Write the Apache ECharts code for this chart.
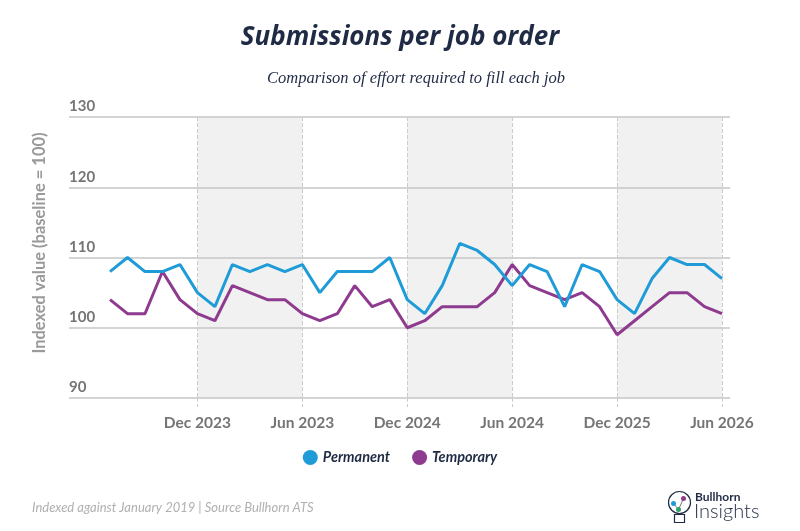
<!DOCTYPE html>
<html>
<head>
<meta charset="utf-8">
<script src="https://cdn.jsdelivr.net/npm/echarts@6/dist/echarts.min.js"></script>
<style>
  html, body { margin: 0; padding: 0; background: #fff; }
  #chart { width: 800px; height: 531px; }
</style>
</head>
<body>
<div id="chart"></div>
<script>
(function () {
  "use strict";

  var NAVY = "#1f2a44";
  var LABEL = "#757575";
  var BLUE = "#1f9bd7";
  var PURPLE = "#8e3b8f";
  var FONT = "Lato, 'Open Sans', sans-serif";

  // --- Data ---
  var seriesNames = ["Permanent", "Temporary"];
  var permanent = [108, 110, 108, 108, 109, 105, 103, 109, 108, 109, 108, 109,
    105, 108, 108, 108, 110, 104, 102, 106, 112, 111, 109, 106,
    109, 108, 103, 109, 108, 104, 102, 107, 110, 109, 109, 107];
  var temporary = [104, 102, 102, 108, 104, 102, 101, 106, 105, 104, 104, 102,
    101, 102, 106, 103, 104, 100, 101, 103, 103, 103, 105, 109,
    106, 105, 104, 105, 103, 99, 101, 103, 105, 105, 103, 102];
  var tickIndex = [5, 11, 17, 23, 29, 35];
  var tickLabels = ["Dec 2023", "Jun 2023", "Dec 2024", "Jun 2024", "Dec 2025", "Jun 2026"];
  var bands = [[5, 11], [17, 23], [29, 35]];
  var yTicks = [90, 100, 110, 120, 130];

  var months = permanent.map(function (v, i) { return "m" + i; });
  function isTick(i) { return tickIndex.indexOf(i) !== -1; }

  var chart = echarts.init(document.getElementById("chart"));

  chart.setOption({
    animation: false,
    backgroundColor: "#fff",
    textStyle: { fontFamily: FONT },
    title: [{
      text: "Submissions per job order",
      left: "center",
      top: 20,
      textStyle: { fontFamily: "'Open Sans', sans-serif", fontSize: 26, fontStyle: "italic", fontWeight: "bold", color: NAVY }
    }, {
      text: "Comparison of effort required to fill each job",
      left: 262,
      top: 65,
      textStyle: { fontFamily: "'Liberation Serif', 'DejaVu Serif', serif", fontSize: 16.5, fontStyle: "italic", fontWeight: "normal", color: NAVY }
    }],
    legend: {
      data: seriesNames,
      top: 445,
      left: "center",
      icon: "circle",
      itemWidth: 15,
      itemHeight: 15,
      itemGap: 22,
      textStyle: { fontFamily: FONT, fontSize: 14.5, fontStyle: "italic", fontWeight: "bold", color: NAVY }
    },
    grid: [
      { left: 69, right: 70, top: 117, bottom: 133 },
      { left: 110, right: 78, top: 117, bottom: 133 }
    ],
    xAxis: [{
      gridIndex: 0, type: "value", min: 0, max: 1, show: false
    }, {
      gridIndex: 1,
      type: "category",
      data: months,
      boundaryGap: false,
      z: 2,
      axisLine: { show: false },
      axisTick: {
        show: true,
        length: 9,
        interval: function (i) { return isTick(i); },
        lineStyle: { color: "#cccccc", type: "dashed", width: 1 }
      },
      splitLine: {
        show: true,
        interval: function (i) { return isTick(i); },
        lineStyle: { color: "#cccccc", type: "dashed", width: 1 }
      },
      axisLabel: {
        interval: function (i) { return isTick(i); },
        formatter: function (v, i) { var k = tickIndex.indexOf(i); return k === -1 ? "" : tickLabels[k]; },
        margin: 17,
        color: LABEL,
        fontFamily: FONT,
        fontSize: 15.5,
        fontWeight: "bold"
      }
    }],
    yAxis: [{
      gridIndex: 0,
      type: "value",
      min: yTicks[0],
      max: yTicks[yTicks.length - 1],
      interval: 10,
      z: 2,
      axisLine: { show: false },
      axisTick: { show: false },
      splitLine: { lineStyle: { color: "#c6c6c6", width: 1.5 } },
      axisLabel: {
        inside: true,
        margin: 0,
        verticalAlign: "bottom",
        padding: [0, 0, 3, 0],
        color: LABEL,
        fontFamily: FONT,
        fontSize: 15,
        fontWeight: "bold"
      }
    }, {
      gridIndex: 1,
      type: "value",
      min: yTicks[0],
      max: yTicks[yTicks.length - 1],
      interval: 10,
      show: false,
      splitLine: { show: false }
    }],
    series: [{
      name: "bands",
      type: "line",
      xAxisIndex: 1,
      yAxisIndex: 1,
      data: [],
      z: 1,
      silent: true,
      markArea: {
        silent: true,
        itemStyle: { color: "#f1f1f1" },
        data: bands.map(function (b) {
          return [{ xAxis: months[b[0]] }, { xAxis: months[b[1]] }];
        })
      }
    }, {
      name: seriesNames[0],
      type: "line",
      xAxisIndex: 1,
      yAxisIndex: 1,
      data: permanent,
      z: 4,
      symbol: "none",
      color: BLUE,
      lineStyle: { width: 3, color: BLUE }
    }, {
      name: seriesNames[1],
      type: "line",
      xAxisIndex: 1,
      yAxisIndex: 1,
      data: temporary,
      z: 3,
      symbol: "none",
      color: PURPLE,
      lineStyle: { width: 3, color: PURPLE }
    }],
    graphic: [{
      type: "text",
      x: 40,
      y: 243,
      rotation: Math.PI / 2,
      style: {
        text: "Indexed value (baseline = 100)",
        fill: "#9a9a9a",
        font: "bold 16.5px " + FONT,
        align: "center",
        verticalAlign: "middle"
      }
    }, {
      type: "text",
      left: 32,
      top: 501,
      style: {
        text: "Indexed against January 2019 | Source Bullhorn ATS",
        fill: "#b0b0b0",
        font: "italic 13px " + FONT
      }
    }, {
      // logo bulb
      type: "group",
      left: 666,
      top: 489,
      children: [
        { type: "circle", shape: { cx: 13, cy: 12, r: 11 }, style: { fill: "none", stroke: NAVY, lineWidth: 1.2 } },
        { type: "rect", shape: { x: 8, y: 24, width: 10, height: 8 }, style: { fill: "none", stroke: NAVY, lineWidth: 1.2 } },
        { type: "polyline", shape: { points: [[7, 13], [12, 19], [17, 8]] }, style: { stroke: "#777", lineWidth: 1 } },
        { type: "circle", shape: { cx: 7, cy: 13, r: 2.5 }, style: { fill: BLUE } },
        { type: "circle", shape: { cx: 12, cy: 19, r: 2.5 }, style: { fill: "#2e9e6a" } },
        { type: "circle", shape: { cx: 17, cy: 8, r: 2.5 }, style: { fill: PURPLE } }
      ]
    }, {
      type: "text",
      left: 695,
      top: 491,
      style: { text: "Bullhorn", fill: NAVY, font: "bold 12px " + FONT }
    }, {
      type: "text",
      left: 694,
      top: 502,
      style: { text: "Insights", fill: NAVY, font: "300 20px " + FONT }
    }]
  });
})();
</script>
</body>
</html>
